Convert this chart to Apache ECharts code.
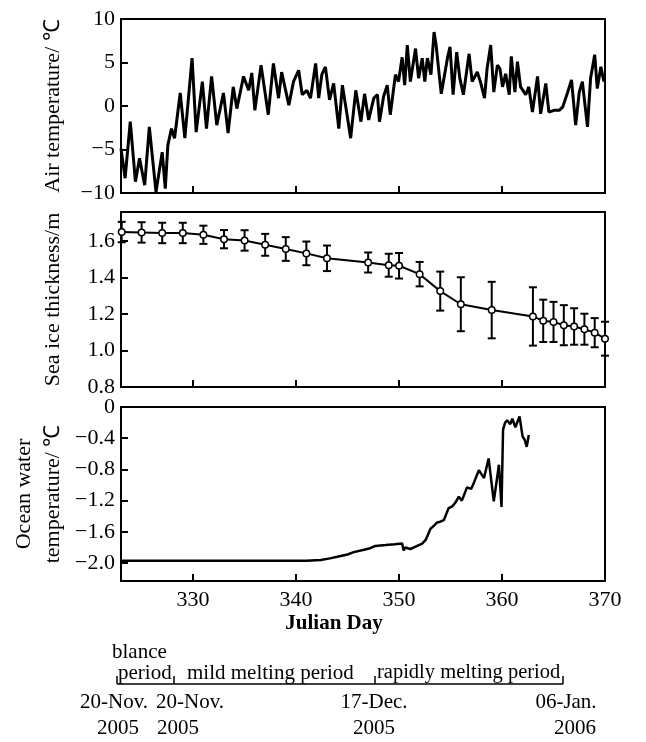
<!DOCTYPE html>
<html>
<head>
<meta charset="utf-8">
<script src="https://cdn.jsdelivr.net/npm/echarts@6/dist/echarts.min.js"></script>
<style>
  html, body { margin: 0; padding: 0; background: #fff; }
  #main { width: 646px; height: 742px; }
</style>
</head>
<body>
<div id="main"></div>
<script>
// air temperature (peaks and troughs)
const airDay = [323.0, 323.4, 323.9, 324.4, 324.8, 325.3, 325.75, 326.4, 327.0, 327.3, 327.55, 327.9, 328.2, 328.75, 329.2, 329.9,
  330.3, 330.9, 331.3, 331.8, 332.3, 332.95, 333.4, 333.9, 334.25, 334.9, 335.4, 335.7, 336.0, 336.6, 337.3, 337.8, 338.3, 338.6,
  339.3, 339.75, 340.25, 340.6, 341.05, 341.4, 341.9, 342.2, 342.5, 342.85, 343.25, 343.65, 344.15, 344.5, 344.95, 345.3, 345.8,
  346.3, 346.65, 347.05, 347.55, 347.9, 348.1, 348.5, 348.85, 349.15, 349.65, 349.95, 350.3, 350.55, 350.8, 351.1, 351.6, 351.9,
  352.25, 352.5, 352.75, 353.1, 353.4, 353.6, 353.9, 354.1, 354.7, 354.95, 355.25, 355.6, 355.9, 356.25, 356.8, 357.1, 357.6,
  357.9, 358.3, 358.55, 358.9, 359.2, 359.55, 359.8, 360.05, 360.35, 360.7, 360.9, 361.25, 361.5, 361.8, 362.3, 362.6, 362.95,
  363.45, 363.75, 364.25, 364.55, 365.05, 365.55, 365.9, 366.35, 366.75, 367.15, 367.5, 367.8, 368.3, 368.6, 369.0, 369.25, 369.6, 369.9];
const airTemp = [-4.9, -8.3, -1.8, -8.7, -6.0, -9.1, -2.4, -9.9, -5.3, -9.5, -4.5, -2.6, -3.7, 1.5, -3.7, 5.5,
  -3.0, 2.8, -2.6, 3.4, -2.2, 1.5, -3.1, 2.2, -0.3, 3.4, 1.8, 3.8, -0.5, 4.7, -1.0, 4.9, 0.9, 3.9,
  0.1, 2.8, 4.1, 1.3, 1.8, 0.9, 4.9, 0.9, 3.6, 4.5, 0.7, 2.6, -2.6, 2.4, -1.0, -3.7, 1.8,
  -1.8, 1.4, -1.6, 0.9, 1.3, -1.8, 1.1, 2.4, -1.0, 3.6, 2.8, 5.6, 2.4, 7.0, 2.8, 6.6, 3.2,
  5.5, 2.8, 5.5, 3.6, 8.5, 7.0, 3.6, 1.4, 5.5, 6.8, 1.3, 6.2, 3.2, 1.3, 6.0, 2.8, 3.9,
  2.8, 0.9, 4.3, 7.0, 1.6, 4.7, 4.3, 2.2, 3.7, 1.3, 5.7, 1.6, 5.1, 2.2, 1.3, 2.2, -0.7,
  3.4, -0.9, 2.6, -0.7, -0.5, -0.5, -0.1, 1.5, 3.0, -2.2, 1.6, 2.8, -2.4, 3.2, 5.9, 2.0, 4.5, 2.8];

// sea ice thickness with error bars
const iceDay = [323.07, 325, 327, 329, 331, 333, 335, 337, 339, 341, 343, 347, 349, 350, 352, 354, 356, 359, 363, 364, 365, 366, 367, 368, 369, 370];
const iceThick = [1.65, 1.648, 1.645, 1.645, 1.635, 1.611, 1.604, 1.58, 1.557, 1.533, 1.506, 1.483, 1.468, 1.465, 1.419, 1.326, 1.254, 1.222, 1.187, 1.163, 1.157, 1.139, 1.132, 1.117, 1.098, 1.065];
const iceErr = [0.056, 0.056, 0.056, 0.056, 0.05, 0.05, 0.056, 0.06, 0.065, 0.065, 0.07, 0.055, 0.063, 0.07, 0.067, 0.107, 0.148, 0.155, 0.16, 0.116, 0.11, 0.11, 0.1, 0.085, 0.08, 0.093];

// ocean water temperature
const oceanDay = [323, 326, 330, 334, 338, 341, 342.4, 343.3, 344, 345, 345.6, 346.6, 347.2, 347.7, 348.7, 349.6, 350.3, 350.45, 350.6,
  351.1, 351.6, 352.25, 352.6, 353.05, 353.4, 353.7, 354.0, 354.35, 354.8, 355.2, 355.5, 355.8, 356.1, 356.6, 357.0, 357.3, 357.75,
  358.0, 358.25, 358.7, 359.2, 359.7, 359.95, 360.1, 360.3, 360.5, 360.8, 361.0, 361.3, 361.7, 362.0, 362.2, 362.4, 362.6];
const oceanTemp = [-1.97, -1.97, -1.97, -1.97, -1.97, -1.97, -1.96, -1.94, -1.92, -1.89, -1.86, -1.83, -1.81, -1.78, -1.77, -1.76, -1.75, -1.84, -1.80,
  -1.82, -1.79, -1.75, -1.70, -1.56, -1.52, -1.48, -1.47, -1.45, -1.30, -1.27, -1.22, -1.15, -1.20, -1.03, -1.05, -0.96, -0.81,
  -0.86, -0.91, -0.66, -1.21, -0.74, -1.28, -0.29, -0.20, -0.17, -0.22, -0.15, -0.26, -0.12, -0.38, -0.42, -0.51, -0.36];

const xTicks = [330, 340, 350, 360, 370];
const airTicks = [-10, -5, 0, 5, 10];
const iceTicks = [0.8, 1.0, 1.2, 1.4, 1.6];
const oceanTicks = [-2.0, -1.6, -1.2, -0.8, -0.4, 0];

const periodNames = ['blance', 'period', 'mild melting period', 'rapidly melting period'];
const dateTop = ['20-Nov.', '20-Nov.', '17-Dec.', '06-Jan.'];
const dateBottom = ['2005', '2005', '2005', '2006'];

const FONT = 'Liberation Serif';
const minus = s => String(s).replace('-', '\u2212');
const black = '#000';

const chart = echarts.init(document.getElementById('main'));

const grids = [
  { left: 121, width: 484, top: 19, height: 174 },
  { left: 121, width: 484, top: 212, height: 175 },
  { left: 121, width: 484, top: 407, height: 174 }
].map(g => Object.assign(g, {
  show: true, borderColor: black, borderWidth: 2, backgroundColor: 'transparent',
  containLabel: false, outerBoundsMode: 'none'
}));

const xAxes = [0, 1, 2].map(i => ({
  gridIndex: i, type: 'value', min: 323, max: 370,
  axisLine: { show: true, onZero: false, lineStyle: { color: black, width: 2 } },
  axisTick: { show: true, inside: true, length: 7, customValues: xTicks, lineStyle: { color: black, width: 2 } },
  axisLabel: { show: i === 2, customValues: xTicks, margin: 8, color: black, fontFamily: FONT, fontSize: 22 },
  splitLine: { show: false }
}));

function yAxis(i, min, max, ticks, fmt, name, gap) {
  return {
    gridIndex: i, type: 'value', min: min, max: max,
    name: name, nameLocation: 'middle', nameGap: gap, nameMoveOverlap: false,
    nameTextStyle: { color: black, fontFamily: FONT, fontSize: 22, lineHeight: 29 },
    axisLine: { show: true, onZero: false, lineStyle: { color: black, width: 2 } },
    axisTick: { show: true, inside: true, length: 7, customValues: ticks, lineStyle: { color: black, width: 2 } },
    axisLabel: { customValues: ticks, formatter: fmt, margin: 6, color: black, fontFamily: FONT, fontSize: 22 },
    splitLine: { show: false }
  };
}

const yAxes = [
  yAxis(0, -10, 10, airTicks, v => minus(v), 'Air temperature/ \u2103', 53),
  yAxis(1, 0.8, 1.76, iceTicks, v => Number(v).toFixed(1), 'Sea ice thickness/m', 53),
  yAxis(2, -2.23, 0, oceanTicks, v => (Math.abs(v) < 1e-9 ? '0' : minus(Number(v).toFixed(1))), 'Ocean water\ntemperature/ \u2103', 53)
];

const txt = (text, x, y, align, extra) => ({
  type: 'text', x: x, y: y,
  style: Object.assign({ text: text, fill: black, font: '21px "' + FONT + '"', textAlign: align, textVerticalAlign: 'middle' }, extra || {})
});

const bracketY = 684;
const bracketX = [117, 174, 375, 563];

const graphics = [
  txt('Julian Day', 334, 624, 'center', { font: 'bold 21px "' + FONT + '"' }),
  txt(periodNames[0], 112, 652, 'left'),
  txt(periodNames[1], 118, 673, 'left'),
  txt(periodNames[2], 187, 673, 'left'),
  txt(periodNames[3], 377, 673, 'left', { font: '20.5px "' + FONT + '"' }),
  { type: 'line', shape: { x1: bracketX[0], y1: bracketY, x2: bracketX[3], y2: bracketY }, style: { stroke: black, lineWidth: 1.5 } }
].concat(bracketX.map(x => ({
  type: 'line', shape: { x1: x, y1: bracketY - 8, x2: x, y2: bracketY }, style: { stroke: black, lineWidth: 1.5 }
}))).concat([
  txt(dateTop[0], 114, 702, 'center'),
  txt(dateTop[1], 190, 702, 'center'),
  txt(dateTop[2], 374, 702, 'center'),
  txt(dateTop[3], 566, 702, 'center'),
  txt(dateBottom[0], 118, 728, 'center'),
  txt(dateBottom[1], 178, 728, 'center'),
  txt(dateBottom[2], 374, 728, 'center'),
  txt(dateBottom[3], 575, 728, 'center')
]);

const option = {
  animation: false,
  backgroundColor: '#fff',
  grid: grids,
  xAxis: xAxes,
  yAxis: yAxes,
  graphic: graphics,
  series: [
    {
      type: 'line', xAxisIndex: 0, yAxisIndex: 0,
      data: airDay.map((d, i) => [d, airTemp[i]]),
      showSymbol: false, lineStyle: { color: black, width: 3 }
    },
    {
      type: 'custom', xAxisIndex: 1, yAxisIndex: 1, clip: false, z: 2,
      data: iceDay.map((d, i) => [d, iceThick[i] - iceErr[i], iceThick[i] + iceErr[i]]),
      encode: { x: 0, y: [1, 2] },
      renderItem: (params, api) => {
        const x = api.value(0);
        const lo = api.coord([x, api.value(1)]);
        const hi = api.coord([x, api.value(2)]);
        const w = 4;
        const st = { stroke: black, lineWidth: 2 };
        return {
          type: 'group', children: [
            { type: 'line', shape: { x1: hi[0], y1: hi[1], x2: lo[0], y2: lo[1] }, style: st },
            { type: 'line', shape: { x1: hi[0] - w, y1: hi[1], x2: hi[0] + w, y2: hi[1] }, style: st },
            { type: 'line', shape: { x1: lo[0] - w, y1: lo[1], x2: lo[0] + w, y2: lo[1] }, style: st }
          ]
        };
      }
    },
    {
      type: 'line', xAxisIndex: 1, yAxisIndex: 1, clip: false, z: 3,
      data: iceDay.map((d, i) => [d, iceThick[i]]),
      symbol: 'circle', symbolSize: 6.5,
      itemStyle: { color: '#fff', borderColor: black, borderWidth: 1.5 },
      lineStyle: { color: black, width: 2 }
    },
    {
      type: 'line', xAxisIndex: 2, yAxisIndex: 2,
      data: oceanDay.map((d, i) => [d, oceanTemp[i]]),
      showSymbol: false, lineStyle: { color: black, width: 2.5 }
    }
  ]
};

chart.setOption(option);
</script>
</body>
</html>
